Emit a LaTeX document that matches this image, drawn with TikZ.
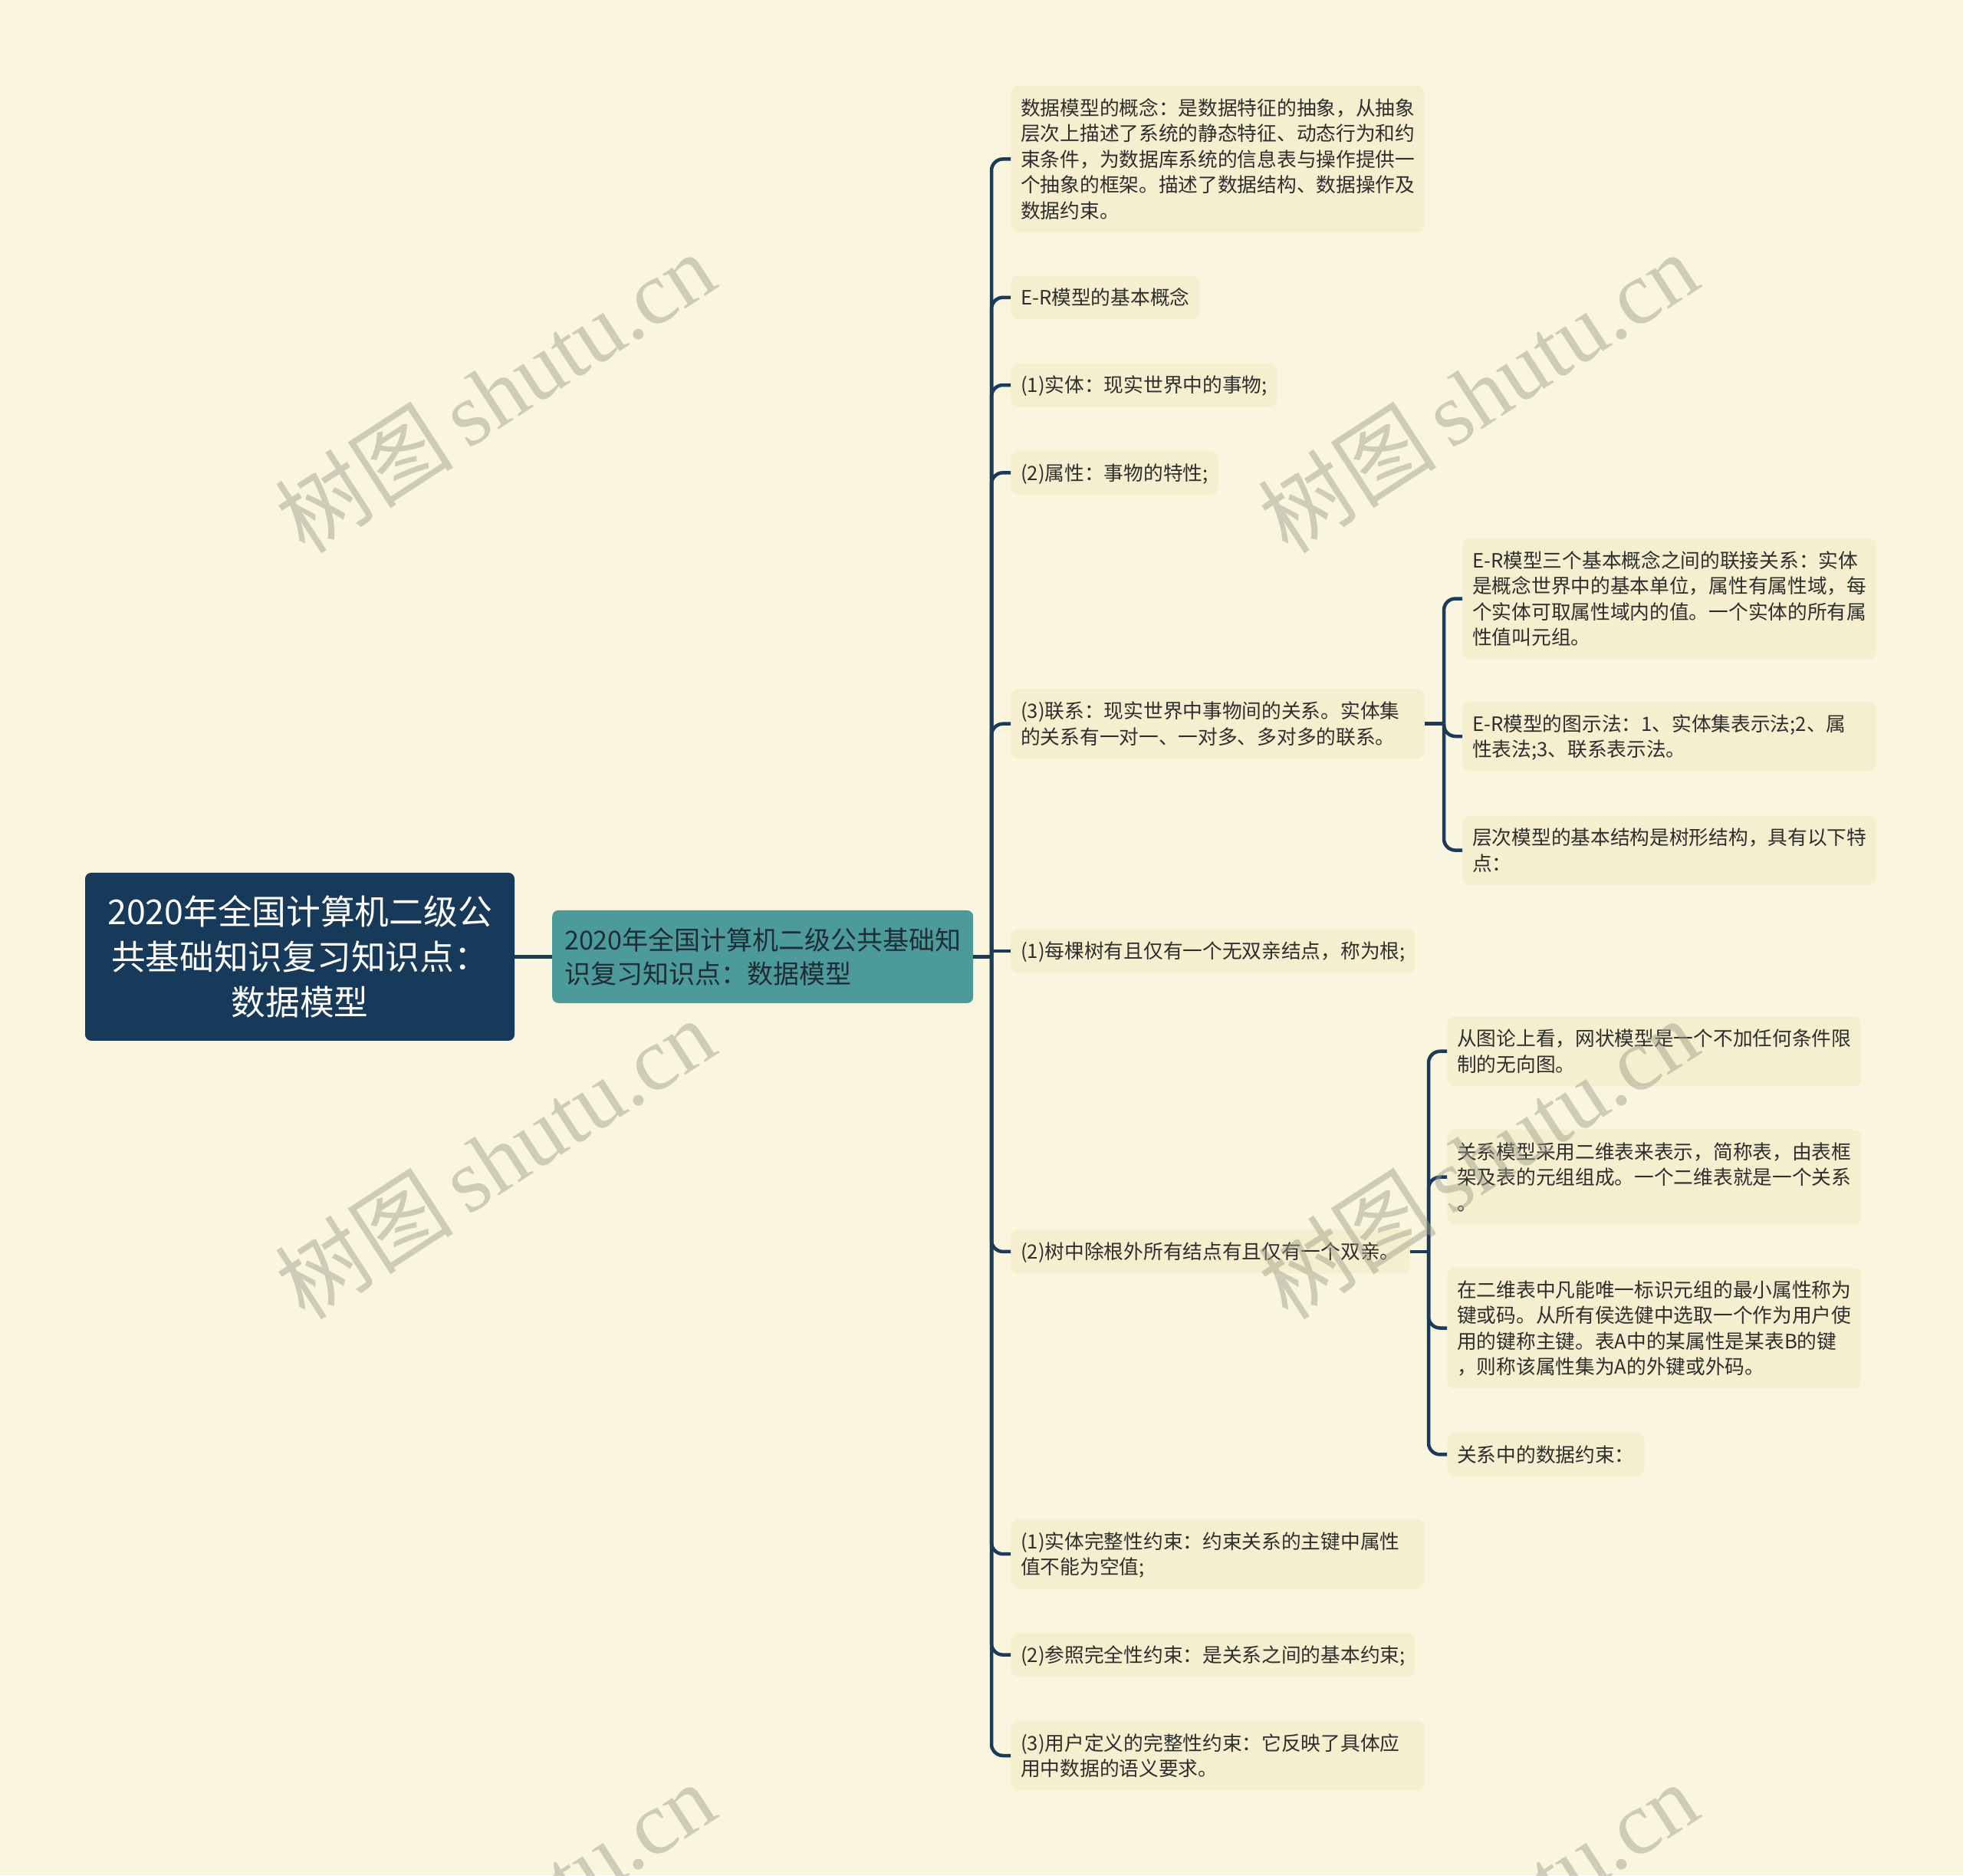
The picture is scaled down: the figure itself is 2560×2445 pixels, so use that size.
\documentclass[tikz,border=0pt]{standalone}
\usepackage{fontspec}
\setmainfont{Noto Sans CJK SC}
\newfontfamily\wmserif{Liberation Serif}
\definecolor{bgc}{HTML}{FAF5DF}
\definecolor{leafbg}{HTML}{F5EFCF}
\definecolor{rootc}{HTML}{173A5A}
\definecolor{subc}{HTML}{4D9A9A}
\definecolor{subtxt}{HTML}{1F2D36}
\definecolor{connc}{HTML}{1B3B5A}
\definecolor{txtc}{HTML}{2E2E2E}
\definecolor{wmc}{HTML}{A09E8C}
\newcommand\wmtext{树图\,{\wmserif shutu.cn}}
\newcommand\lstrut{\rule[-6.95pt]{0pt}{33.5pt}}
\begin{document}
\begin{tikzpicture}[x=1pt,y=-1pt,
  conn/.style={draw=connc, line width=4.5pt, rounded corners=15pt},
  rootbox/.style={fill=rootc, rounded corners=8pt, text=white, align=center, text width=530pt, minimum width=560pt, minimum height=219pt, inner sep=0pt, font=\fontsize{44.7pt}{58.8pt}\selectfont},
  subbox/.style={fill=subc, rounded corners=8pt, anchor=west, text=subtxt, align=left, text width=517pt, inner xsep=16pt, inner ysep=0pt, minimum height=121pt, font=\fontsize{34pt}{44pt}\selectfont},
  leaf/.style={fill=leafbg, rounded corners=10pt, anchor=west, inner xsep=13pt, inner ysep=11.75pt, font=\fontsize{25.7pt}{33.5pt}\selectfont, text=txtc, align=left, execute at begin node=\lstrut, execute at end node=\lstrut},
  wide/.style={text width=514pt},
  wm/.style={text=wmc, opacity=0.48, rotate=33, font=\fontsize{117pt}{122pt}\selectfont, inner sep=0pt}]
\fill[bgc] (0,0) rectangle (2560,2445);
\useasboundingbox (0,0) rectangle (2560,2445);

% root and main topic
\node[rootbox] (root) at (391,1247.4) {2020年全国计算机二级公\\共基础知识复习知识点：\\数据模型};
\node[subbox] (main) at (720,1247.4) {2020年全国计算机二级公共基础知\\识复习知识点：数据模型};

% first level leaves
\node[leaf,wide] (n1) at (1318,207.4) {数据模型的概念：是数据特征的抽象，从抽象\\层次上描述了系统的静态特征、动态行为和约\\束条件，为数据库系统的信息表与操作提供一\\个抽象的框架。描述了数据结构、数据操作及\\数据约束。};
\node[leaf] (n2) at (1318,387.8) {E-R模型的基本概念};
\node[leaf] (n3) at (1318,502) {(1)实体：现实世界中的事物;};
\node[leaf] (n4) at (1318,616.3) {(2)属性：事物的特性;};
\node[leaf,wide] (n5) at (1318,943.7) {(3)联系：现实世界中事物间的关系。实体集\\的关系有一对一、一对多、多对多的联系。};
\node[leaf] (n6) at (1318,1240) {(1)每棵树有且仅有一个无双亲结点，称为根;};
\node[leaf] (n7) at (1318,1631.9) {(2)树中除根外所有结点有且仅有一个双亲。};
\node[leaf,wide] (n8) at (1318,2026.2) {(1)实体完整性约束：约束关系的主键中属性\\值不能为空值;};
\node[leaf] (n9) at (1318,2157.6) {(2)参照完全性约束：是关系之间的基本约束;};
\node[leaf,wide] (n10) at (1318,2289) {(3)用户定义的完整性约束：它反映了具体应\\用中数据的语义要求。};

% children of n5
\node[leaf,wide] (c5a) at (1907,780.5) {E-R模型三个基本概念之间的联接关系：实体\\是概念世界中的基本单位，属性有属性域，每\\个实体可取属性域内的值。一个实体的所有属\\性值叫元组。};
\node[leaf,wide] (c5b) at (1907,960) {E-R模型的图示法：1、实体集表示法;2、属\\性表法;3、联系表示法。};
\node[leaf,wide] (c5c) at (1907,1108.6) {层次模型的基本结构是树形结构，具有以下特\\点：};

% children of n7
\node[leaf,wide] (c7a) at (1887,1370.7) {从图论上看，网状模型是一个不加任何条件限\\制的无向图。};
\node[leaf,wide] (c7b) at (1887,1534.7) {关系模型采用二维表来表示，简称表，由表框\\架及表的元组组成。一个二维表就是一个关系\\。};
\node[leaf,wide] (c7c) at (1887,1731.5) {在二维表中凡能唯一标识元组的最小属性称为\\键或码。从所有侯选健中选取一个作为用户使\\用的键称主键。表A中的某属性是某表B的键\\，则称该属性集为A的外键或外码。};
\node[leaf] (c7d) at (1887,1896.4) {关系中的数据约束：};

% connectors
\coordinate (s0) at (1293,1247.4);
\coordinate (s5) at (1883,943.7);
\coordinate (s7) at (1863,1631.9);
\draw[conn] (root.east) -- (main.west);
\draw[conn] (main.east) -- (s0);
\foreach \c in {n1,n2,n3,n4,n5,n7,n8,n9,n10} \draw[conn] (s0) |- (\c.west);
\draw[conn] (s0 |- n6.west) -- (n6.west);
\draw[conn] (n5.east) -- (s5);
\foreach \c in {c5a,c5b,c5c} \draw[conn] (s5) |- (\c.west);
\draw[conn] (n7.east) -- (s7);
\foreach \c in {c7a,c7b,c7c,c7d} \draw[conn] (s7) |- (\c.west);

% watermarks
\node[wm] (w1) at (645,511) {\wmtext};
\node[wm] (w2) at (1927,511) {\wmtext};
\node[wm] (w3) at (645,1510) {\wmtext};
\node[wm] (w4) at (1927,1510) {\wmtext};
\node[wm] (w5) at (645,2506) {\wmtext};
\node[wm] (w6) at (1927,2506) {\wmtext};
\end{tikzpicture}
\end{document}
